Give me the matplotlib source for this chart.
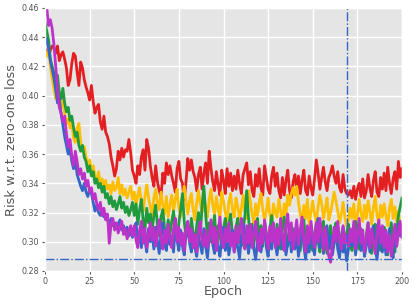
import numpy as np
import matplotlib
matplotlib.use('Agg')
import matplotlib.pyplot as plt

''' data read off the reference '''
epochs = np.arange(0, 201)

risk_red = [
    .432, .429, .427, .431, .434, .433, .429, .434, .424, .428,
    .430, .425, .419, .407, .411, .422, .429, .427, .416, .407,
    .423, .419, .411, .406, .402, .397, .407, .396, .388, .392,
    .394, .382, .377, .386, .375, .372, .367, .358, .352, .345,
    .350, .362, .356, .364, .358, .363, .362, .370, .361, .349,
    .345, .340, .352, .346, .358, .363, .349, .370, .364, .352,
    .344, .338, .352, .341, .335, .331, .347, .340, .354, .346,
    .352, .345, .340, .334, .350, .355, .343, .340, .329, .341,
    .357, .349, .356, .348, .344, .335, .346, .351, .336, .347,
    .354, .340, .362, .350, .341, .335, .348, .339, .332, .349,
    .342, .333, .350, .338, .347, .335, .345, .336, .349, .340,
    .333, .346, .350, .354, .339, .348, .335, .331, .346, .338,
    .350, .337, .332, .352, .344, .336, .333, .345, .351, .338,
    .347, .335, .330, .344, .332, .342, .349, .335, .330, .341,
    .346, .336, .345, .333, .342, .349, .335, .332, .345, .337,
    .332, .343, .356, .347, .336, .344, .351, .341, .335, .344,
    .347, .352, .345, .340, .348, .337, .334, .346, .336, .333,
    .332, .335, .330, .338, .329, .336, .340, .331, .343, .330,
    .335, .346, .337, .331, .342, .348, .334, .331, .344, .336,
    .347, .335, .351, .340, .333, .343, .348, .336, .355, .344,
    .350]

risk_yellow = [
    .430, .427, .432, .420, .412, .405, .398, .402, .395, .392,
    .400, .388, .381, .384, .378, .382, .371, .368, .378, .381,
    .368, .362, .365, .358, .352, .356, .349, .352, .345, .341,
    .348, .340, .343, .337, .342, .336, .339, .333, .341, .335,
    .337, .344, .333, .339, .332, .336, .330, .334, .338, .329,
    .334, .325, .332, .337, .326, .321, .331, .339, .330, .324,
    .318, .330, .336, .326, .322, .334, .325, .319, .331, .317,
    .325, .332, .321, .329, .336, .323, .317, .328, .338, .327,
    .319, .328, .333, .322, .315, .327, .335, .326, .320, .331,
    .324, .317, .329, .336, .325, .319, .331, .322, .316, .334,
    .328, .320, .314, .327, .333, .322, .317, .330, .324, .315,
    .323, .332, .321, .316, .335, .328, .319, .313, .326, .318,
    .327, .333, .322, .315, .321, .330, .318, .312, .326, .320,
    .317, .329, .321, .313, .326, .318, .332, .325, .333, .337,
    .332, .338, .327, .319, .313, .325, .316, .329, .312, .320,
    .328, .319, .313, .324, .332, .326, .316, .322, .330, .315,
    .320, .327, .334, .328, .321, .313, .319, .327, .317, .311,
    .315, .323, .316, .326, .312, .318, .329, .320, .314, .325,
    .316, .328, .321, .312, .323, .331, .318, .313, .325, .317,
    .326, .318, .311, .323, .329, .316, .324, .314, .321, .309,
    .312]

risk_green = [
    .450, .444, .438, .425, .420, .416, .410, .414, .402, .398,
    .405, .395, .389, .392, .383, .386, .378, .372, .375, .366,
    .362, .366, .358, .355, .348, .352, .345, .348, .340, .343,
    .337, .340, .334, .338, .330, .333, .326, .331, .324, .328,
    .322, .326, .331, .323, .327, .320, .324, .318, .322, .327,
    .318, .326, .312, .322, .329, .314, .309, .323, .313, .319,
    .308, .318, .325, .311, .304, .317, .322, .309, .303, .315,
    .305, .314, .321, .309, .300, .313, .322, .333, .314, .303,
    .311, .301, .316, .306, .298, .311, .320, .304, .325, .338,
    .319, .304, .313, .300, .309, .318, .298, .311, .305, .296,
    .309, .316, .301, .312, .319, .305, .297, .310, .316, .303,
    .297, .308, .318, .335, .317, .302, .312, .298, .308, .316,
    .301, .311, .297, .314, .306, .296, .309, .318, .303, .299,
    .312, .301, .295, .308, .317, .304, .297, .311, .300, .309,
    .298, .312, .302, .294, .307, .315, .300, .293, .306, .299,
    .294, .305, .313, .300, .293, .307, .314, .299, .292, .304,
    .311, .296, .305, .313, .298, .293, .304, .310, .297, .306,
    .312, .300, .294, .307, .314, .302, .295, .309, .298, .292,
    .305, .313, .299, .292, .304, .312, .297, .306, .294, .303,
    .310, .296, .291, .304, .313, .299, .293, .307, .318, .324,
    .330]

risk_blue = [
    .440, .438, .432, .424, .418, .412, .404, .395, .398, .388,
    .380, .372, .366, .360, .364, .355, .350, .356, .346, .342,
    .338, .335, .340, .334, .331, .336, .333, .327, .321, .325,
    .320, .318, .322, .317, .319, .315, .312, .316, .311, .313,
    .309, .312, .315, .308, .311, .306, .310, .304, .308, .303,
    .307, .313, .299, .306, .296, .310, .301, .293, .309, .300,
    .305, .295, .310, .300, .292, .306, .313, .298, .294, .307,
    .298, .304, .293, .311, .301, .294, .308, .297, .291, .305,
    .312, .299, .293, .306, .296, .290, .304, .298, .292, .309,
    .297, .289, .303, .313, .298, .292, .306, .296, .290, .302,
    .310, .294, .303, .291, .299, .308, .293, .302, .296, .289,
    .304, .312, .296, .305, .292, .301, .310, .295, .288, .299,
    .306, .293, .302, .311, .296, .290, .304, .295, .309, .299,
    .291, .302, .311, .295, .305, .291, .299, .308, .293, .303,
    .295, .305, .290, .300, .312, .297, .288, .303, .293, .306,
    .299, .291, .305, .316, .296, .307, .292, .302, .311, .295,
    .304, .291, .299, .309, .295, .289, .303, .293, .298, .287,
    .295, .305, .297, .307, .291, .300, .309, .294, .303, .290,
    .297, .306, .293, .302, .311, .295, .288, .300, .307, .293,
    .303, .291, .300, .309, .295, .289, .305, .297, .312, .304,
    .306]

risk_magenta = [
    .455, .460, .448, .452, .446, .435, .420, .405, .392, .388,
    .382, .386, .374, .365, .370, .359, .352, .362, .355, .346,
    .350, .343, .347, .338, .342, .334, .337, .329, .333, .326,
    .322, .327, .318, .323, .315, .319, .299, .312, .316, .308,
    .313, .306, .310, .314, .305, .309, .302, .307, .311, .304,
    .311, .301, .296, .308, .314, .299, .309, .296, .304, .313,
    .301, .310, .297, .306, .315, .302, .295, .308, .299, .312,
    .303, .296, .309, .316, .300, .310, .298, .306, .294, .308,
    .314, .300, .309, .296, .305, .293, .308, .314, .300, .297,
    .308, .296, .304, .315, .299, .310, .294, .306, .317, .302,
    .296, .309, .300, .313, .297, .306, .293, .311, .299, .308,
    .316, .301, .295, .311, .299, .312, .296, .305, .314, .300,
    .294, .309, .299, .315, .304, .295, .311, .300, .313, .296,
    .309, .298, .316, .304, .294, .311, .319, .301, .313, .295,
    .305, .315, .298, .308, .317, .301, .293, .311, .299, .314,
    .304, .296, .313, .300, .316, .307, .294, .310, .298, .290,
    .286, .298, .310, .300, .314, .302, .295, .311, .299, .305,
    .297, .309, .300, .314, .295, .306, .316, .299, .308, .293,
    .302, .313, .296, .309, .300, .292, .306, .315, .299, .311,
    .296, .308, .293, .305, .290, .301, .312, .297, .306, .314,
    .303]

best_risk = 0.288   # horizontal reference line
best_epoch = 169    # vertical reference line

series = [(risk_red, '#e41f22'), (risk_yellow, '#ffbf00'), (risk_green, '#1f9a3c'),
          (risk_blue, '#3466c8'), (risk_magenta, '#bd33c9')]

''' plot '''
plt.style.use('ggplot')
fig = plt.figure(figsize=(4.15, 3.06), dpi=100)
ax = fig.add_axes([45/415, 1-271/306, 357/415, 263/306])

for vals, col in series:
    ax.plot(epochs, vals, color=col, linewidth=2.0)

ax.axhline(best_risk, color='#3466c8', linestyle='-.', linewidth=1.0)
ax.axvline(best_epoch, color='#3466c8', linestyle='-.', linewidth=1.0)

ax.set_xlim(0, 200)
ax.set_ylim(0.28, 0.46)
ax.set_xticks([0, 25, 50, 75, 100, 125, 150, 175, 200])
yt = np.arange(0.28, 0.461, 0.02)
ax.set_yticks(yt)
ax.set_yticklabels(['{:.2f}'.format(v) for v in yt])
ax.tick_params(labelsize=5.8, colors='#555555', length=2.5, pad=2)
ax.set_xlabel('Epoch', fontsize=9.2, color='#555555')
ax.set_ylabel('Risk w.r.t. zero-one loss', fontsize=9.3, color='#555555')
ax.xaxis.set_label_coords(0.5, -0.055)
ax.yaxis.set_label_coords(-0.075, 0.5)
ax.grid(True, color='white', linewidth=1.0)

fig.savefig('out.png', dpi=100)
